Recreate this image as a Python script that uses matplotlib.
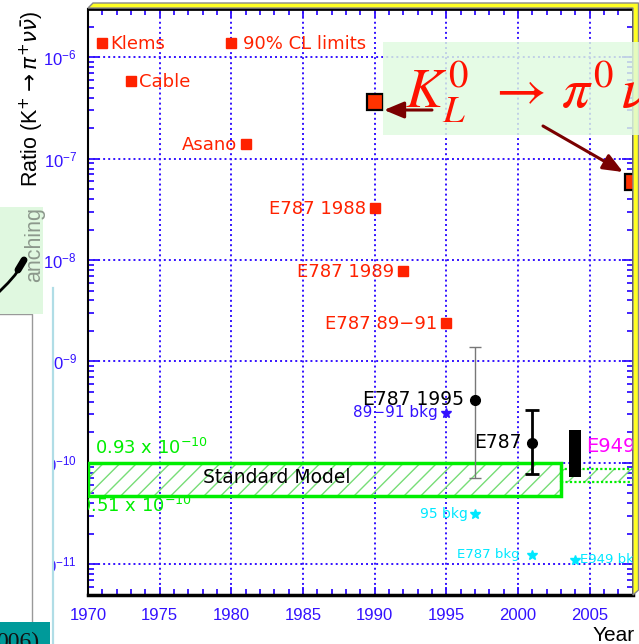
import matplotlib
matplotlib.use("Agg")
import matplotlib.pyplot as plt
import numpy as np
from matplotlib.patches import Rectangle, Polygon, FancyArrowPatch
from matplotlib.lines import Line2D
from matplotlib.ticker import LogLocator, MultipleLocator, NullFormatter

# ---------------- data ----------------
limit_years = [1971, 1973, 1981, 1990, 1992, 1995]
limit_values = [1.4e-6, 5.8e-7, 1.4e-7, 3.3e-8, 7.8e-9, 2.4e-9]
limit_labels = ["Klems", "Cable", "Asano", "E787 1988", "E787 1989", "E787 89\u221291"]
limit_side = ["right", "right", "left", "left", "left", "left"]
cl_key_year = [1980]
cl_key_value = [1.4e-6]
cl_key_label = "90% CL limits"

meas_years = [1997, 2001]
meas_values = [4.2e-10, 1.57e-10]
meas_hi = [1.4e-9, 3.35e-10]
meas_lo = [7.1e-11, 7.8e-11]
meas_labels = ["E787 1995", "E787"]

e949_year = [2004]
e949_lo = [7.3e-11]
e949_hi = [2.1e-10]
e949_label = "E949"

bkg_years = [1995, 1997, 2001, 2004]
bkg_values = [3.1e-10, 3.1e-11, 1.24e-11, 1.1e-11]
bkg_labels = ["89\u221291 bkg", "95 bkg", "E787 bkg", "E949 bkg"]

sm_years = [1970, 2003]
sm_lo = [0.47e-10, 0.47e-10]
sm_hi = [1.0e-10, 1.0e-10]
proj_years = [2003, 2008]
proj_lo = [0.65e-10, 0.65e-10]
proj_hi = [0.87e-10, 0.87e-10]

kl_years = [1990, 2008]
kl_limits = [3.6e-7, 5.9e-8]

# ---------------- style ----------------
BLUE = "#3311ff"
RED = "#ff2200"
GREEN = "#00ee00"
HATCH = "#77dd77"
CYAN = "#00e8ff"
MAG = "#ff00ff"

plt.rcParams['font.family'] = ['DejaVu Sans']
plt.rcParams['hatch.linewidth'] = 1.0
plt.rcParams['hatch.color'] = HATCH

W, H = 639, 644
fig = plt.figure(figsize=(W / 100, H / 100), dpi=100)
fig.patch.set_facecolor("white")


def fx(p):
    return p / W


def fy(p):
    return 1 - p / H


ax = fig.add_axes([fx(88), fy(595), fx(632.5) - fx(88), fy(8.5) - fy(595)])
ax.set_yscale('log')
ax.set_xlim(1970, 2008)
ax.set_ylim(4.95e-12, 3.04e-6)
ax.set_axisbelow(True)

ax.xaxis.set_major_locator(MultipleLocator(5))
ax.xaxis.set_minor_locator(MultipleLocator(1))
ax.yaxis.set_major_locator(LogLocator(base=10, numticks=20))
ax.yaxis.set_minor_locator(LogLocator(base=10, subs=np.arange(2, 10), numticks=20))
ax.yaxis.set_minor_formatter(NullFormatter())

ax.grid(True, which='major', color=BLUE, linestyle=(0, (1, 1.6)), lw=1.4)
ax.tick_params(axis='both', which='both', direction='in', top=True, right=True,
               color=BLUE, labelcolor=BLUE, width=1.3)
ax.tick_params(axis='x', which='major', length=6, pad=9, labelsize=12)
ax.tick_params(axis='x', which='minor', length=4.5)
ax.tick_params(axis='y', which='major', length=8, pad=8, labelsize=12)
ax.tick_params(axis='y', which='minor', length=4)
for lab in ax.get_xticklabels():
    lab.set_fontfamily('Liberation Sans')
for lab in ax.get_yticklabels():
    lab.set_fontfamily('Liberation Sans')
for side, lw in [('left', 1.5), ('bottom', 2.5), ('top', 2.0), ('right', 2.0)]:
    ax.spines[side].set_color('black')
    ax.spines[side].set_linewidth(lw)

# Standard Model band
ax.fill_between(sm_years, sm_lo, sm_hi, facecolor='none', edgecolor=HATCH,
                hatch='//', lw=0, zorder=2)
ax.add_patch(Rectangle((sm_years[0], sm_lo[0]), sm_years[1] - sm_years[0],
                       sm_hi[0] - sm_lo[0], fill=False, edgecolor=GREEN, lw=2.5, zorder=3))
ax.fill_between(proj_years, proj_lo, proj_hi, facecolor='none', edgecolor=HATCH,
                hatch='//', lw=0, zorder=2)
ax.add_patch(Rectangle((proj_years[0], proj_lo[0]), proj_years[1] - proj_years[0],
                       proj_hi[0] - proj_lo[0], fill=False, edgecolor=GREEN, lw=1.6,
                       linestyle=(0, (1, 1)), zorder=3))
ax.text(1970.5, 1.4e-10, "0.93 x $10^{-10}$", color=GREEN, fontsize=13, va='center', ha='left')
ax.text(1969.35, 3.75e-11, "0.51 x $10^{-10}$", color=GREEN, fontsize=13, va='center',
        ha='left', clip_on=True)
ax.text(1978.0, 7.1e-11, "Standard Model", color='black', fontsize=13.5, va='center', ha='left',
        zorder=4)

# 90% CL limits
ax.plot(limit_years, limit_values, 's', color=RED, ms=6.5, ls='none', zorder=5)
ax.plot(cl_key_year, cl_key_value, 's', color=RED, ms=6.5, ls='none', zorder=5)
for x, y, lab, side in zip(limit_years, limit_values, limit_labels, limit_side):
    if side == "right":
        ax.annotate(lab, (x, y), xytext=(8, -1), textcoords='offset pixels',
                    ha='left', va='center', color=RED, fontsize=13)
    else:
        ax.annotate(lab, (x, y), xytext=(-9, -1), textcoords='offset pixels',
                    ha='right', va='center', color=RED, fontsize=13)
ax.annotate(cl_key_label, (cl_key_year[0], cl_key_value[0]), xytext=(12, -1),
            textcoords='offset pixels', ha='left', va='center', color=RED, fontsize=13)

# measurements
ax.errorbar(meas_years[0], meas_values[0],
            yerr=[[meas_values[0] - meas_lo[0]], [meas_hi[0] - meas_values[0]]],
            fmt='o', color='black', ecolor='#777777', elinewidth=1, capsize=4, capthick=1,
            ms=7, zorder=6)
ax.errorbar(meas_years[1], meas_values[1],
            yerr=[[meas_values[1] - meas_lo[1]], [meas_hi[1] - meas_values[1]]],
            fmt='o', color='black', ecolor='black', elinewidth=2, capsize=5, capthick=2,
            ms=7, zorder=6)
for x, y, lab in zip(meas_years, meas_values, meas_labels):
    ax.annotate(lab, (x, y), xytext=(-11, 0), textcoords='offset pixels',
                ha='right', va='center', color='black', fontsize=13.5)

ax.bar(e949_year, [e949_hi[0] - e949_lo[0]], bottom=e949_lo, width=0.84,
       color='black', zorder=6)
ax.text(2004.75, 1.45e-10, e949_label, color=MAG, fontsize=14, va='center', ha='left',
        clip_on=True)

# backgrounds
bkg_colors = [BLUE, CYAN, CYAN, CYAN]
bkg_off = [(-8, 0), (-7, 0), (-13, 0), (5, 0)]
bkg_ha = ['right', 'right', 'right', 'left']
bkg_size = [11, 10, 9.5, 9.5]
for x, y, lab, c, off, ha, fs in zip(bkg_years, bkg_values, bkg_labels, bkg_colors,
                                     bkg_off, bkg_ha, bkg_size):
    ax.plot([x], [y], '*', color=c, ms=7, zorder=6)
    ax.annotate(lab, (x, y), xytext=off, textcoords='offset pixels', ha=ha, va='center',
                color=c, fontsize=fs, clip_on=True)

# KL limits (slide overlay points)
ax.plot(kl_years, kl_limits, 's', mfc='#ff3300', mec='black', mew=1.6, ms=11,
        ls='none', clip_on=False, zorder=7)

# ---------------- figure-level overlays ----------------
# yellow 3D frame
frame = Polygon([(fx(88), fy(8)), (fx(93), fy(3)), (fx(638.5), fy(3)), (fx(638.5), fy(590)),
                 (fx(633), fy(595)), (fx(633), fy(8))], closed=True,
                transform=fig.transFigure, facecolor='#ffff22', edgecolor='#888888', lw=1,
                zorder=1)
fig.add_artist(frame)

# green KL text box
fig.add_artist(Rectangle((fx(383), fy(135)), fx(640) - fx(383), fy(42) - fy(135),
                         transform=fig.transFigure, facecolor='#e0fbe0', alpha=0.82,
                         edgecolor='none', zorder=1))
fig.text(fx(405), fy(108), r"$K_L^0\;\,\rightarrow\,\pi^0\,\nu\bar{\nu}$", color='#ff1100',
         fontsize=40, math_fontfamily='stix', ha='left', va='baseline', zorder=3)
fig.add_artist(FancyArrowPatch((fx(432), fy(110)), (fx(384), fy(110)),
                               transform=fig.transFigure, arrowstyle='-|>,head_length=0.6,head_width=0.25',
                               mutation_scale=20, color='#7a0000', lw=2.2, shrinkA=0, shrinkB=0,
                               zorder=4))
fig.add_artist(FancyArrowPatch((fx(543), fy(126)), (fx(623), fy(172)),
                               transform=fig.transFigure, arrowstyle='-|>,head_length=0.6,head_width=0.25',
                               mutation_scale=20, color='#7a0000', lw=2.2, shrinkA=0, shrinkB=0,
                               zorder=4))

# y-axis label (partly covered on the slide)
fig.text(fx(32), fy(11), r"Ratio (K$^{+}\rightarrow\pi^{+}\nu\bar{\nu}$)", rotation=90,
         ha='center', va='top', fontsize=15.5, family='Liberation Sans', color='black', zorder=3)

# white left panel
fig.add_artist(Rectangle((0, 0), fx(52), fy(288), transform=fig.transFigure,
                         facecolor='white', edgecolor='none', zorder=2))
fig.add_artist(Line2D([fx(52.5), fx(52.5)], [fy(288), 0], transform=fig.transFigure,
                      color='#b0dde6', lw=1.6, zorder=2.1))
fig.add_artist(Line2D([0, fx(32), fx(32)], [fy(314), fy(314), fy(622)], transform=fig.transFigure,
                      color='#999999', lw=1.0, zorder=2.1))
# green box with "anching"
fig.add_artist(Rectangle((0, fy(314)), fx(43), fy(207) - fy(314), transform=fig.transFigure,
                         facecolor='#e0f8e0', edgecolor='none', zorder=2.2))
fig.text(fx(35), fy(207), "anching", rotation=90, ha='center', va='top', fontsize=15.5,
         family='Liberation Sans', color='#8c988c', zorder=3)
# black curved pointer
fig.add_artist(Line2D([0, fx(8), fx(15), fx(19)], [fy(291), fy(283), fy(275), fy(269)],
                      transform=fig.transFigure, color='black', lw=2.0, zorder=3))
fig.add_artist(Line2D([fx(18), fx(24)], [fy(270), fy(260)], transform=fig.transFigure,
                      color='black', lw=5, solid_capstyle='round', zorder=3))
# teal box bottom-left
fig.add_artist(Rectangle((0, 0), fx(50), fy(622), transform=fig.transFigure,
                         facecolor='#009a9a', edgecolor='none', zorder=2.3))
fig.text(fx(-4), fy(632), "006)", ha='left', va='top', fontsize=17, color='#111111',
         family='Liberation Serif', zorder=3)

# x-axis title
fig.text(fx(635), fy(626), "Year", ha='right', va='top', fontsize=15,
         family='Liberation Sans', color='black', zorder=3)

fig.savefig("out.png", dpi=100)
